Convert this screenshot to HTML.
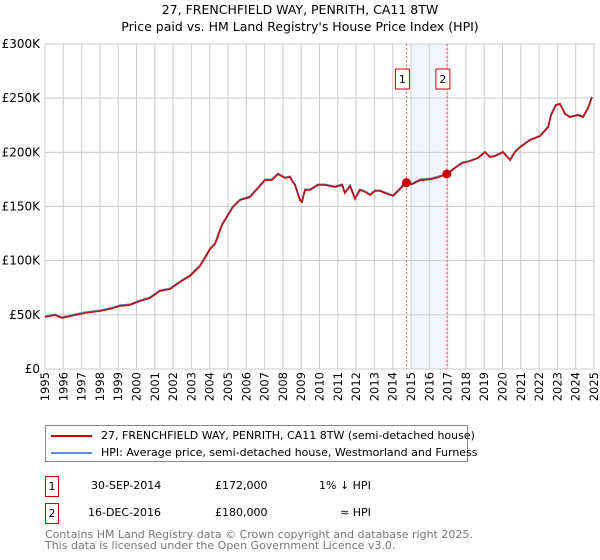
<!DOCTYPE html>
<html><head><meta charset="utf-8">
<style>
html,body{margin:0;padding:0;background:#fff;}
body{width:600px;height:560px;position:relative;overflow:hidden;font-family:"DejaVu Sans","Liberation Sans",sans-serif;color:#000;}
.t{position:absolute;white-space:nowrap;}
</style></head>
<body>
<div class="t" style="left:0;width:600px;top:1px;text-align:center;font-size:12.5px;line-height:17px;">27, FRENCHFIELD WAY, PENRITH, CA11 8TW<br>Price paid vs. HM Land Registry's House Price Index (HPI)</div>
<svg id="chart" width="600" height="420" style="position:absolute;left:0;top:0;" font-family="DejaVu Sans, Liberation Sans, sans-serif"></svg>

<div style="position:absolute;left:45px;top:425px;width:423px;height:37px;border:1px solid #888;box-sizing:border-box;">
  <div style="position:absolute;left:5px;top:2px;font-size:11px;line-height:15px;white-space:nowrap;"><span style="display:inline-block;width:41px;height:2px;background:#cc0000;vertical-align:middle;margin-right:9px;"></span>27, FRENCHFIELD WAY, PENRITH, CA11 8TW (semi-detached house)</div>
  <div style="position:absolute;left:5px;top:19px;font-size:11px;line-height:15px;white-space:nowrap;"><span style="display:inline-block;width:41px;height:2px;background:#5b8fd6;vertical-align:middle;margin-right:9px;"></span>HPI: Average price, semi-detached house, Westmorland and Furness</div>
</div>

<div class="t" style="left:45px;top:476px;width:14px;height:21px;border:1px solid #cc0000;box-sizing:border-box;font-size:11px;text-align:center;line-height:19px;">1</div>
<div class="t" style="left:91px;top:479px;font-size:11px;">30-SEP-2014</div>
<div class="t" style="left:215px;top:479px;font-size:11px;">£172,000</div>
<div class="t" style="left:319px;top:479px;font-size:11px;">1% ↓ HPI</div>

<div class="t" style="left:45px;top:503px;width:14px;height:21px;border:1px solid #cc0000;box-sizing:border-box;font-size:11px;text-align:center;line-height:19px;">2</div>
<div class="t" style="left:88px;top:506px;font-size:11px;">16-DEC-2016</div>
<div class="t" style="left:215px;top:506px;font-size:11px;">£180,000</div>
<div class="t" style="left:340px;top:506px;font-size:11px;">≈ HPI</div>

<div class="t" style="left:45px;top:529px;font-size:11px;line-height:11px;color:#777;">Contains HM Land Registry data © Crown copyright and database right 2025.<br>This data is licensed under the Open Government Licence v3.0.</div>

<script>
const years = [1995,1995.55,1995.93,1996.64,1997.19,1998.01,1998.55,1999.1,1999.64,2000.19,2000.74,2001.28,2001.83,2002.38,2002.92,2003.47,2004.02,2004.29,2004.67,2005.0,2005.27,2005.66,2006.2,2006.64,2007.02,2007.4,2007.73,2008.11,2008.39,2008.5,2008.66,2008.93,2009.04,2009.21,2009.48,2009.92,2010.3,2010.85,2011.23,2011.39,2011.67,2011.94,2012.21,2012.49,2012.76,2013.03,2013.31,2013.58,2014.02,2014.4,2014.73,2015.05,2015.49,2016.04,2016.48,2016.97,2017.4,2017.79,2018.22,2018.66,2019.04,2019.32,2019.59,2020.03,2020.41,2020.68,2020.96,2021.5,2022.05,2022.49,2022.65,2022.92,2023.14,2023.42,2023.69,2024.13,2024.4,2024.67,2024.89];
const priceValues = [48,49.8,47.1,49.8,51.7,53.5,55.4,58.2,59.1,62.8,65.5,72,73.8,80.3,85.8,95,110.7,115.3,132.8,142.1,149.5,155.9,158.7,167,174.4,174.4,179.9,176.3,177.2,173.5,169.8,156,154.1,165.2,165.2,169.8,169.8,168,169.8,162.4,168.9,156.9,165.2,163.4,160.6,164.3,164.3,162.4,159.7,166.1,172,170.5,174.2,175.1,176.9,180,185.5,190.1,191.9,194.7,200.2,195.6,196.5,200.2,192.8,200.2,204.8,211.3,215,223.3,234.4,243.6,244.5,235.3,232.5,234.4,232.5,240.8,251];
const hpiValues = [48.5,50.3,47.6,50.3,52.2,54,55.9,58.7,59.6,63.3,66,72.5,74.3,80.8,86.3,95.5,111.2,115.8,133.3,142.6,150,156.4,159.2,167.5,174.9,174.9,180.4,176.8,177.7,174,170.3,156.5,154.6,165.7,165.7,170.3,170.3,168.5,170.3,162.9,169.4,157.4,165.7,163.9,161.1,164.8,164.8,162.9,160.2,166.6,173.7,171,175,175.6,177.6,180.3,185.8,190.4,192.2,195,200.5,195.9,196.8,200.5,193.1,200.5,205.1,211.6,215.3,223.6,234.7,243.9,244.8,235.6,232.8,234.7,232.8,241.1,251.3];
const yTicks = [0,50,100,150,200,250,300];
const yTickLabels = ["£0","£50K","£100K","£150K","£200K","£250K","£300K"];
const saleYears = [2014.75,2016.96];
const saleValues = [172,180];
const saleLabels = ["1","2"];
const shadeRange = [2015.0,2016.96];

const NS="http://www.w3.org/2000/svg";
const svg=document.getElementById('chart');
const L=45,R=594,T=44,B=369,Y0=1995,Y1=2025,VMAX=300;
const xs=y=>L+(y-Y0)/(Y1-Y0)*(R-L);
const ys=v=>B-v/VMAX*(B-T);
function mk(tag,attrs){const e=document.createElementNS(NS,tag);for(const k in attrs)e.setAttribute(k,attrs[k]);svg.appendChild(e);return e;}

// shading
const sh=mk('rect',{x:xs(shadeRange[0]),y:T,width:xs(shadeRange[1])-xs(shadeRange[0]),height:B-T,fill:'#eef3fd',opacity:0.8});



// grid
for(let y=Y0;y<=Y1;y++){
  const g=mk('line',{x1:xs(y),x2:xs(y),y1:T,y2:B,stroke:'#cccccc','stroke-width':1});
  
  
  const t=mk('text',{x:0,y:0,'font-size':11.5,'text-anchor':'end',transform:`translate(${xs(y)+4},372) rotate(-90)`});
  t.textContent=String(y);
  
  
}
yTicks.forEach((v,i)=>{
  const g=mk('line',{x1:L,x2:R,y1:ys(v),y2:ys(v),stroke:'#cccccc','stroke-width':1});
  
  
  const t=mk('text',{x:40,y:ys(v)+4,'font-size':12,'text-anchor':'end'});
  t.textContent=yTickLabels[i];
  
  
});

// sale vlines and labels
saleYears.forEach((yr,i)=>{
  const l=mk('line',{x1:xs(yr),x2:xs(yr),y1:T,y2:B,stroke:'#e06666','stroke-width':1,'stroke-dasharray':'2,2'});
  
  
  const bx=mk('rect',{x:xs(yr)-11,y:69,width:14,height:20,fill:'#fff',stroke:'#cc0000','stroke-width':1});
  
  
  const t=mk('text',{x:xs(yr)-4,y:83,'font-size':11,'text-anchor':'middle'});
  t.textContent=saleLabels[i];
  
  
});

function path(xsArr,vals){return vals.map((v,i)=>(i?'L':'M')+xs(xsArr[i]).toFixed(1)+','+ys(v).toFixed(1)).join(' ');}
const hp=mk('path',{d:path(years,hpiValues),fill:'none',stroke:'#5b8fd6','stroke-width':2});


const pp=mk('path',{d:path(years,priceValues),fill:'none',stroke:'#cc0000','stroke-width':1.6});


saleYears.forEach((yr,i)=>{
  const c=mk('circle',{cx:xs(yr),cy:ys(saleValues[i]),r:4.5,fill:'#cc0000'});
  
  
});
</script>
</body></html>
